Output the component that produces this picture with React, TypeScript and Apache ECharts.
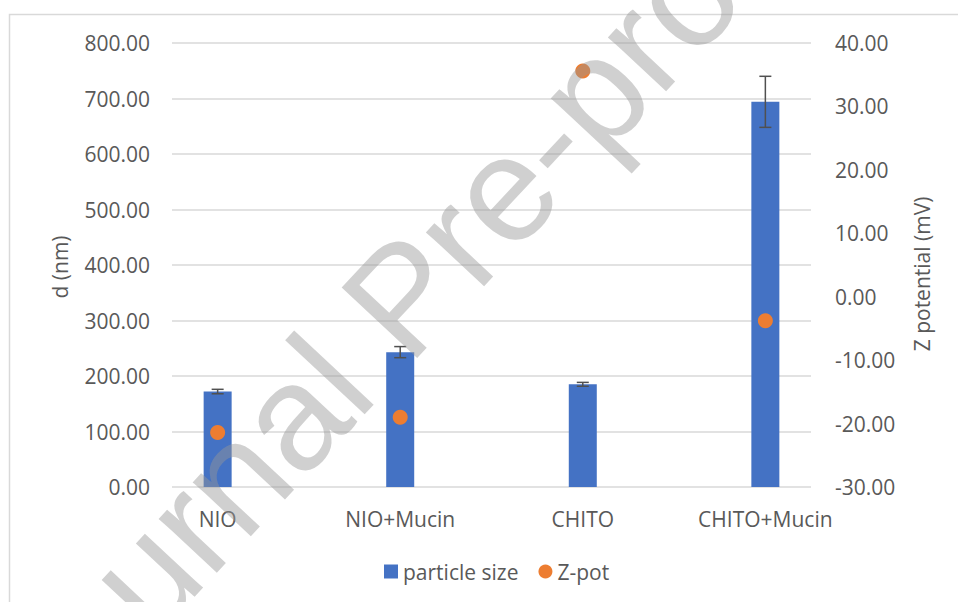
import React, { useEffect, useRef } from "react";
import * as echarts from "echarts";

// Formulations on the horizontal axis
const categories = ["NIO", "NIO+Mucin", "CHITO", "CHITO+Mucin"];
// Mean particle diameter (nm) and its standard deviation
const particleSize = [172, 243, 185, 694];
const particleSizeSd = [4, 10, 3.5, 46];
// Zeta potential (mV)
const zPot = [-21.4, -19.0, 35.6, -3.8];

const FONT = "Open Sans";
const TEXT = "#595959";
const GRID = "#d9d9d9";

export default function App() {
  const ref = useRef<HTMLDivElement>(null);

  useEffect(() => {
    if (!ref.current) return;
    const chart = echarts.init(ref.current, undefined, { renderer: "svg" });

    const barData = particleSize.map((v, i) => [i, v]);
    const errData = particleSize.map((v, i) => [i, v - particleSizeSd[i], v + particleSizeSd[i]]);
    const zData = zPot.map((v, i) => [i, v]);

    chart.setOption({
      animation: false,
      backgroundColor: "#ffffff",
      textStyle: { fontFamily: FONT },
      grid: { left: 172, right: 147, top: 43, bottom: 115 },
      legend: {
        left: 379,
        top: 556,
        itemWidth: 14,
        itemHeight: 14,
        itemGap: 20,
        textStyle: { color: TEXT, fontSize: 21, fontFamily: FONT },
        data: [
          { name: "particle size", icon: "rect" },
          { name: "Z-pot", icon: "circle" },
        ],
      },
      xAxis: {
        type: "value",
        min: -0.25,
        max: 3.25,
        axisLine: { show: false },
        axisTick: { show: false },
        splitLine: { show: false },
        axisLabel: {
          customValues: [0, 1, 2, 3],
          formatter: (v: number) => categories[Math.round(v)] ?? "",
          color: TEXT,
          fontSize: 21,
          lineHeight: 24,
          margin: 20,
          fontFamily: FONT,
        },
      },
      yAxis: [
        {
          type: "value",
          min: 0,
          max: 800,
          interval: 100,
          axisLine: { show: false },
          axisTick: { show: false },
          splitLine: { show: true, lineStyle: { color: GRID, width: 1.5 } },
          axisLabel: {
            formatter: (v: number) => v.toFixed(2),
            color: TEXT,
            fontSize: 21,
            margin: 22,
            fontFamily: FONT,
          },
        },
        {
          type: "value",
          min: -30,
          max: 40,
          interval: 10,
          position: "right",
          axisLine: { show: false },
          axisTick: { show: false },
          splitLine: { show: false },
          axisLabel: {
            formatter: (v: number) => v.toFixed(2),
            color: TEXT,
            fontSize: 21,
            margin: 24,
            fontFamily: FONT,
          },
        },
      ],
      series: [
        {
          name: "particle size",
          type: "bar",
          xAxisIndex: 0,
          yAxisIndex: 0,
          barWidth: 28,
          itemStyle: { color: "#4472C4" },
          data: barData,
          z: 2,
        },
        {
          name: "sd",
          type: "custom",
          xAxisIndex: 0,
          yAxisIndex: 0,
          z: 3,
          data: errData,
          renderItem: (params: any, api: any) => {
            const x = api.value(0);
            const lo = api.coord([x, api.value(1)]);
            const hi = api.coord([x, api.value(2)]);
            const half = 6;
            const style = { stroke: "#505050", lineWidth: 1.5 };
            return {
              type: "group",
              children: [
                { type: "line", shape: { x1: hi[0], y1: hi[1], x2: lo[0], y2: lo[1] }, style },
                { type: "line", shape: { x1: hi[0] - half, y1: hi[1], x2: hi[0] + half, y2: hi[1] }, style },
                { type: "line", shape: { x1: lo[0] - half, y1: lo[1], x2: lo[0] + half, y2: lo[1] }, style },
              ],
            };
          },
        },
        {
          name: "Z-pot",
          type: "scatter",
          xAxisIndex: 0,
          yAxisIndex: 1,
          symbol: "circle",
          symbolSize: 15,
          itemStyle: { color: "#ED7D31", opacity: 1 },
          data: zData,
          z: 4,
        },
      ],
      graphic: [
        {
          type: "rect",
          silent: true,
          z: -10,
          shape: { x: 9.5, y: 14.5, width: 1000, height: 700 },
          style: { fill: "none", stroke: GRID, lineWidth: 1.5 },
        },
        {
          type: "text",
          silent: true,
          x: 60,
          y: 267,
          rotation: Math.PI / 2,
          style: {
            text: "d (nm)",
            fill: TEXT,
            font: `21px '${FONT}'`,
            align: "center",
            verticalAlign: "middle",
          },
        },
        {
          type: "text",
          silent: true,
          x: 922,
          y: 274,
          rotation: Math.PI / 2,
          style: {
            text: "Z potential (mV)",
            fill: TEXT,
            font: `21px '${FONT}'`,
            align: "center",
            verticalAlign: "middle",
          },
        },
        {
          type: "text",
          silent: true,
          z: 100,
          x: 402,
          y: 298,
          rotation: (47 * Math.PI) / 180,
          style: {
            text: "Journal Pre-proof",
            fill: "rgba(150,150,150,0.45)",
            font: "150px 'Liberation Sans'",
            align: "center",
            verticalAlign: "middle",
          },
        },
      ],
    });

    return () => chart.dispose();
  }, []);

  return (
    <div
      ref={ref}
      style={{ position: "fixed", left: 0, top: 0, width: 958, height: 602 }}
    />
  );
}
